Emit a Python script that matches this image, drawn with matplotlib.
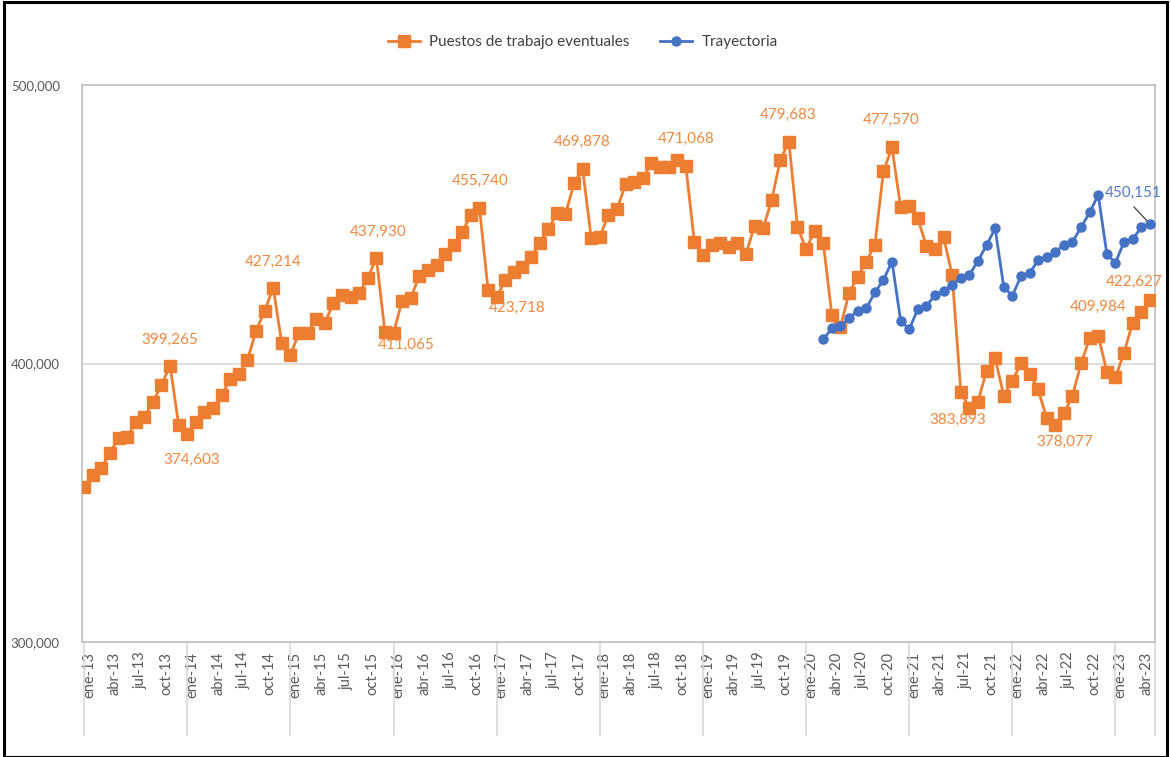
import matplotlib
matplotlib.use("Agg")
import matplotlib.pyplot as plt
from matplotlib.lines import Line2D
import matplotlib.transforms as mtransforms

# ---------------- data ----------------
eventuales = [
    355600, 360000, 362500, 367900, 373300, 373600, 379000, 380800, 386200, 392300, 399265, 377900,
    374603, 379000, 382600, 384000, 388700, 394400, 396200, 401300, 411700, 418900, 427214, 407200,
    403100, 411000, 411000, 416000, 414500, 421700, 424600, 423900, 425300, 430700, 437930, 411300,
    411065, 422500, 423500, 431500, 433600, 435400, 439300, 442500, 447300, 453300, 455740, 426400,
    423718, 430000, 433000, 434800, 438400, 443300, 448200, 453900, 453600, 464700, 469878, 445000,
    445500, 453300, 455400, 464300, 465300, 466500, 471900, 470700, 470700, 473000, 471068, 443700,
    439000, 442600, 443400, 441900, 443400, 439300, 449400, 448500, 458700, 473100, 479683, 449100,
    441000, 447700, 443400, 417400, 413200, 425200, 431200, 436600, 442500, 469000, 477570, 456100,
    456600, 452100, 442200, 441000, 445300, 431800, 389900, 383893, 386300, 397400, 401900, 388500,
    393700, 400100, 396400, 390700, 380300, 378077, 382100, 388400, 400100, 409000, 409984, 397000,
    395000, 403900, 414600, 418600, 422627,
]
trayectoria_start = 86  # mar-20
trayectoria = [
    408700, 412600, 413500, 416200, 419000, 419800, 425500, 430000, 436600, 415400,
    412300, 419500, 420600, 424600, 426100, 428200, 430600, 431800, 436800, 442500,
    448500, 427500, 424300, 431300, 432500, 437000, 438200, 440200, 442500, 443700,
    448900, 454300, 460500, 439200, 436200, 443700, 444600, 448900, 450151,
]
tick_months = ["ene", "abr", "jul", "oct"]
years = ["13", "14", "15", "16", "17", "18", "19", "20", "21", "22", "23"]
tick_labels = [f"{m}-{y}" for y in years for m in tick_months][:42]  # ene-13 ... abr-23
y_ticks = [300000, 400000, 500000]
orange_label_idx = [10, 12, 22, 34, 36, 46, 48, 58, 70, 82, 94, 103, 113, 118, 124]
blue_label_idx = [124]

# ---------------- style ----------------
ORANGE = "#ED7D31"
BLUE = "#4472C4"
ORANGE_TXT = "#F0883E"
BLUE_TXT = "#4F7BCB"
GRAY_TXT = "#595959"
FONT = "Lato"

# label offsets in pixels (dx, dy)
orange_offsets = {10: (0, 26), 12: (4, -26), 22: (0, 26), 34: (2, 26), 36: (13, -12),
                  46: (1, 27), 48: (20, -10), 58: (0, 27), 70: (0, 27), 82: (-1, 27),
                  94: (-1, 28), 103: (-12, -12), 113: (9, -17), 118: (0, 29), 124: (-16, 19)}
blue_offsets = {124: (-17, 31)}

fig = plt.figure(figsize=(11.71, 7.57), dpi=100)
ax = fig.add_axes([82 / 1171, 1 - 642 / 757, (1155 - 82) / 1171, (642 - 85) / 757])

x_or = list(range(len(eventuales)))
x_bl = list(range(trayectoria_start, trayectoria_start + len(trayectoria)))

ax.plot(x_or, eventuales, color=ORANGE, lw=2.0, marker="s", ms=8, mfc=ORANGE, mec=ORANGE,
        zorder=3, label="Puestos de trabajo eventuales")
ax.plot(x_bl, trayectoria, color=BLUE, lw=2.0, marker="o", ms=6.5, mfc=BLUE, mec=BLUE,
        zorder=4, label="Trayectoria")

xmin, xmax = -0.25, 124.6
ax.set_xlim(xmin, xmax)
ax.set_ylim(300000, 500000)

# y axis
ax.set_yticks(y_ticks)
ax.set_yticklabels([f"{v:,}" for v in y_ticks], fontsize=9.5, color=GRAY_TXT, family=FONT)
ax.tick_params(axis="y", length=0, pad=16)
ax.axhline(400000, color="#D9D9D9", lw=1.2, zorder=1)

# x axis
ax.set_xticks(list(range(0, 3 * len(tick_labels), 3)))
ax.set_xticklabels(tick_labels, rotation=90, fontsize=10.5, color=GRAY_TXT, family=FONT)
ax.tick_params(axis="x", length=0, pad=7)
shift = mtransforms.ScaledTranslation(5 / 100, 0, fig.dpi_scale_trans)
for lab in ax.get_xticklabels():
    lab.set_transform(lab.get_transform() + shift)

for s in ax.spines.values():
    s.set_color("#BFBFBF")
    s.set_linewidth(1.2)

# year separators below axis
trans = mtransforms.blended_transform_factory(ax.transData, ax.transAxes)
sep_x = list(range(0, len(eventuales), 12)) + [xmax]
for xs in sep_x:
    ax.add_line(Line2D([xs, xs], [0, -0.167], transform=trans, color="#D9D9D9", lw=1.2,
                       clip_on=False))

# data labels
def place(x, y, text, off, color):
    ax.annotate(text, (x, y), xytext=off, textcoords="offset pixels", ha="center", va="center",
                fontsize=11, color=color, family=FONT, zorder=5)

for i in orange_label_idx:
    place(i, eventuales[i], f"{eventuales[i]:,}", orange_offsets[i], ORANGE_TXT)
for i in blue_label_idx:
    j = i - trayectoria_start
    place(i, trayectoria[j], f"{trayectoria[j]:,}", blue_offsets[i], BLUE_TXT)
# leader line for last blue label
ax.annotate("", (x_bl[-1], trayectoria[-1]), xytext=(-16, 17), textcoords="offset pixels",
            arrowprops=dict(arrowstyle="-", color="#404040", lw=0.9, shrinkA=0, shrinkB=3))

leg = fig.legend(loc="center", bbox_to_anchor=(583 / 1171, 1 - 42 / 757), ncol=2, frameon=False,
                 prop={"family": FONT, "size": 11}, handlelength=2.1, columnspacing=2.0,
                 handletextpad=0.6)
for t in leg.get_texts():
    t.set_color("#404040")

# figure frame
fig.add_artist(plt.Rectangle((0.003, 0.0), 0.994, 0.997, transform=fig.transFigure,
                             fill=False, ec="black", lw=2.2))

fig.savefig("out.png", dpi=100)
